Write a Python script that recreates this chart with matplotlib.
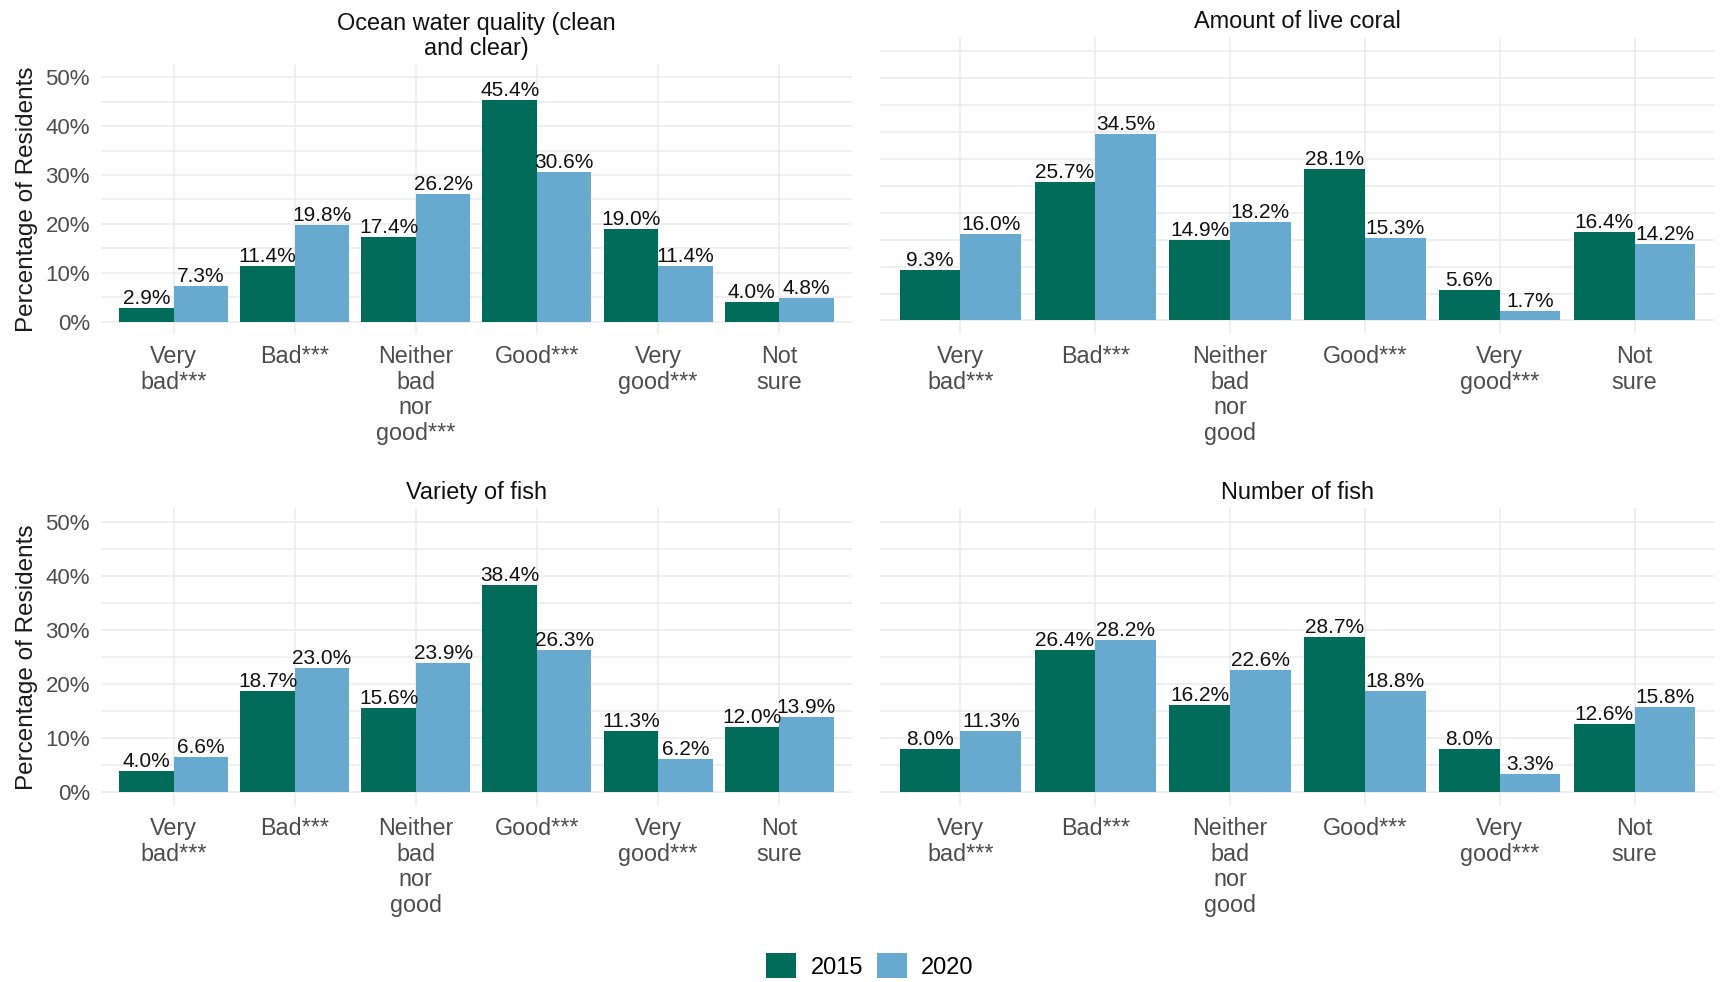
import numpy as np
import matplotlib
matplotlib.use("Agg")
import matplotlib.pyplot as plt
from matplotlib.patches import Patch

plt.rcParams['font.family'] = ['Liberation Sans', 'DejaVu Sans']

# data (percent of residents)
years = ["2015", "2020"]
colors = ["#016c59", "#67a9cf"]

titles = ["Ocean water quality (clean\nand clear)", "Amount of live coral",
          "Variety of fish", "Number of fish"]

cats_ocean = ["Very\nbad***", "Bad***", "Neither\nbad\nnor\ngood***", "Good***", "Very\ngood***", "Not\nsure"]
cats_other = ["Very\nbad***", "Bad***", "Neither\nbad\nnor\ngood", "Good***", "Very\ngood***", "Not\nsure"]

ocean_2015 = [2.9, 11.4, 17.4, 45.4, 19.0, 4.0]
ocean_2020 = [7.3, 19.8, 26.2, 30.6, 11.4, 4.8]
coral_2015 = [9.3, 25.7, 14.9, 28.1, 5.6, 16.4]
coral_2020 = [16.0, 34.5, 18.2, 15.3, 1.7, 14.2]
variety_2015 = [4.0, 18.7, 15.6, 38.4, 11.3, 12.0]
variety_2020 = [6.6, 23.0, 23.9, 26.3, 6.2, 13.9]
number_2015 = [8.0, 26.4, 16.2, 28.7, 8.0, 12.6]
number_2020 = [11.3, 28.2, 22.6, 18.8, 3.3, 15.8]

panels = [
    (titles[0], cats_ocean, ocean_2015, ocean_2020),
    (titles[1], cats_other, coral_2015, coral_2020),
    (titles[2], cats_other, variety_2015, variety_2020),
    (titles[3], cats_other, number_2015, number_2020),
]

fig = plt.figure(figsize=(17.27, 9.82), dpi=100)

rects = [
    [0.0585, 0.6599, 0.4347, 0.2739],
    [0.5093, 0.6599, 0.4840, 0.3020],
    [0.0585, 0.1794, 0.4347, 0.3028],
    [0.5093, 0.1794, 0.4840, 0.3028],
]

grid_col = "#ebebeb"
w = 0.45

for i, (title, cats, v15, v20) in enumerate(panels):
    ax = fig.add_axes(rects[i])
    x = np.arange(len(cats))
    for j, vals in enumerate([v15, v20]):
        xs = x - w / 2 if j == 0 else x + w / 2
        ax.bar(xs, vals, width=w, color=colors[j], zorder=2, linewidth=0)
        for xx, v in zip(xs, vals):
            ax.text(xx, v, f"{v:.1f}%", ha="center", va="bottom",
                    fontsize=15, color="#111111", zorder=3)

    ax.set_xlim(-0.6, len(cats) - 0.4)
    ax.set_ylim(-2.5, 52.5)
    ax.set_xticks(x)
    ax.set_xticklabels(cats, fontsize=16.8, color="#4d4d4d", linespacing=1.15)
    ax.set_yticks(np.arange(0, 51, 10))
    ax.set_yticks(np.arange(5, 50, 10), minor=True)
    if i % 2 == 0:
        ax.set_yticklabels([f"{t}%" for t in range(0, 51, 10)], fontsize=16, color="#4d4d4d")
        ax.set_ylabel("Percentage of Residents", fontsize=17.5, color="#1a1a1a")
        ax.yaxis.set_label_coords(-0.0843, 0.5)
    else:
        ax.set_yticklabels([])
    ax.tick_params(axis="both", which="both", length=0)
    ax.tick_params(axis="x", pad=8)
    ax.tick_params(axis="y", pad=8)
    ax.grid(which="major", color=grid_col, linewidth=1.1, zorder=0)
    ax.grid(which="minor", axis="y", color=grid_col, linewidth=1.1, zorder=0)
    ax.set_axisbelow(True)
    for s in ax.spines.values():
        s.set_visible(False)
    ax.set_title(title, fontsize=16.9, color="#111111", pad=7, linespacing=1.12)

handles = [Patch(facecolor=c, edgecolor="none", label=y) for c, y in zip(colors, years)]
fig.legend(handles=handles, loc="center", bbox_to_anchor=(870 / 1727, 1 - 966 / 982),
           ncol=2, frameon=False, fontsize=17, handlelength=1.27, handleheight=1.27,
           handletextpad=0.6, columnspacing=0.6, borderaxespad=0)

fig.savefig("out.png", dpi=100, facecolor="white")
